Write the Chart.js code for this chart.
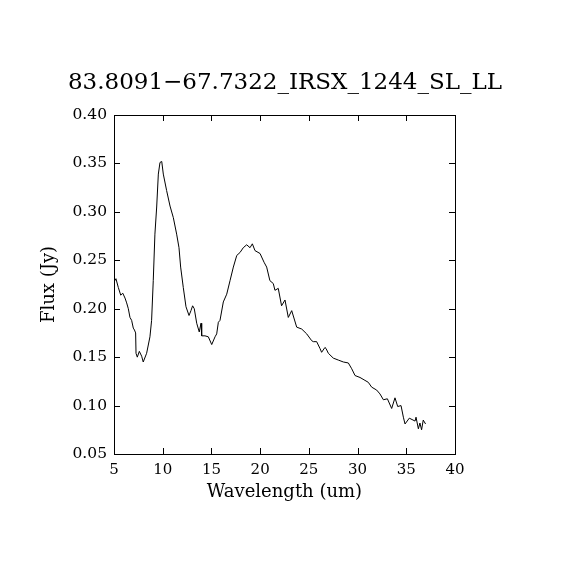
<!DOCTYPE html>
<html>
<head>
<meta charset="utf-8">
<script src="https://cdn.jsdelivr.net/npm/chart.js@4/dist/chart.umd.min.js"></script>
<style>
  html, body { margin: 0; padding: 0; background: #fff; }
  #spec { display: block; }
</style>
</head>
<body>
<canvas id="spec" width="570" height="570"></canvas>
<script>
  // values
  const wavelength = [
    5.1, 5.2, 5.44, 5.69, 5.9, 6.13, 6.3, 6.47, 6.64, 6.81, 6.98, 7.1, 7.22, 7.26, 7.39, 7.6, 7.84, 8.0,
    8.35, 8.69, 8.86, 9.03, 9.2, 9.38, 9.55, 9.72, 9.9, 10.06, 10.4, 10.75, 11.09, 11.43, 11.67,
    11.84, 12.11, 12.39, 12.7, 12.9, 13.07, 13.24, 13.49, 13.75, 13.93, 14.0, 14.34, 14.68, 15.03,
    15.37, 15.54, 15.71, 15.88, 16.22, 16.57, 16.91, 17.25, 17.6, 17.93, 18.27, 18.62, 18.96, 19.2,
    19.47, 19.99, 20.4, 20.67, 21.0, 21.35, 21.52, 21.86, 22.2, 22.55, 22.89, 23.24, 23.75, 24.27,
    24.78, 25.29, 25.46, 25.8, 26.14, 26.31, 26.65, 26.76, 27.0, 27.51, 28.02, 28.54, 29.05, 29.4,
    29.74, 30.25, 30.76, 31.1, 31.45, 31.96, 32.3, 32.65, 33.06, 33.5, 33.84, 34.12, 34.46, 34.7,
    34.87, 35.31, 35.9, 36.0, 36.24, 36.4, 36.57, 36.74, 36.98
  ];
  const flux = [
    0.229, 0.231, 0.222, 0.214, 0.216, 0.211, 0.206, 0.200, 0.191, 0.188, 0.180, 0.178, 0.175, 0.154, 0.150, 0.156, 0.151, 0.145,
    0.154, 0.171, 0.188, 0.229, 0.277, 0.305, 0.339, 0.351, 0.352, 0.339, 0.322, 0.306, 0.294, 0.277, 0.263,
    0.243, 0.222, 0.202, 0.193, 0.198, 0.203, 0.200, 0.185, 0.176, 0.185, 0.172, 0.172, 0.171, 0.163,
    0.171, 0.174, 0.186, 0.188, 0.207, 0.215, 0.229, 0.243, 0.255, 0.258, 0.263, 0.266, 0.263, 0.267,
    0.260, 0.257, 0.248, 0.243, 0.229, 0.226, 0.219, 0.221, 0.203, 0.209, 0.191, 0.198, 0.181, 0.179,
    0.174, 0.167, 0.166, 0.166, 0.159, 0.155, 0.160, 0.159, 0.154, 0.149, 0.147, 0.145, 0.144, 0.138,
    0.131, 0.129, 0.126, 0.124, 0.119, 0.116, 0.112, 0.106, 0.107, 0.097, 0.108, 0.099, 0.100, 0.088,
    0.081, 0.087, 0.084, 0.088, 0.076, 0.082, 0.075, 0.085, 0.081
  ];
  const xTicks = [5, 10, 15, 20, 25, 30, 35, 40];
  const yTicks = [0.05, 0.10, 0.15, 0.20, 0.25, 0.30, 0.35, 0.40];

  const serif = 'DejaVu Serif';
  const points = wavelength.map((w, i) => ({ x: w, y: flux[i] }));

  // box round the plot with small inward ticks on all four sides
  const frame = {
    id: 'frame',
    afterDatasetsDraw(chart) {
      const { ctx, chartArea: a, scales } = chart;
      const len = 6;
      ctx.save();
      ctx.strokeStyle = '#000';
      ctx.lineWidth = 1;
      ctx.beginPath();
      xTicks.forEach(v => {
        const px = Math.round(scales.x.getPixelForValue(v)) + 0.5;
        ctx.moveTo(px, a.bottom); ctx.lineTo(px, a.bottom - len);
        ctx.moveTo(px, a.top); ctx.lineTo(px, a.top + len);
      });
      yTicks.forEach(v => {
        const py = Math.round(scales.y.getPixelForValue(v)) + 0.5;
        ctx.moveTo(a.left, py); ctx.lineTo(a.left + len, py);
        ctx.moveTo(a.right, py); ctx.lineTo(a.right - len, py);
      });
      ctx.stroke();
      ctx.strokeRect(Math.round(a.left) + 0.5, Math.round(a.top) + 0.5,
                     Math.round(a.right - a.left), Math.round(a.bottom - a.top));
      ctx.restore();
    }
  };

  new Chart(document.getElementById('spec'), {
    type: 'line',
    data: {
      datasets: [{
        data: points,
        borderColor: '#000',
        borderWidth: 1,
        pointRadius: 0,
        tension: 0,
        fill: false
      }]
    },
    options: {
      responsive: false,
      animation: false,
      layout: { padding: 0 },
      plugins: {
        legend: { display: false },
        tooltip: { enabled: false },
        title: {
          display: true,
          text: '83.8091\u221267.7322_IRSX_1244_SL_LL',
          color: '#000',
          font: { family: serif, size: 23, weight: 'normal' },
          padding: { top: 69, bottom: 18.4 }
        }
      },
      scales: {
        x: {
          type: 'linear',
          min: 5,
          max: 40,
          afterFit(s) { s.height = 116; },
          afterBuildTicks(s) { s.ticks = xTicks.map(v => ({ value: v })); },
          grid: { display: false, drawTicks: false },
          border: { display: false },
          ticks: {
            color: '#000',
            padding: 7,
            maxRotation: 0,
            font: { family: serif, size: 15 }
          },
          title: {
            display: true,
            text: 'Wavelength (um)',
            color: '#000',
            font: { family: serif, size: 18 },
            padding: { top: 2, bottom: 67 }
          }
        },
        y: {
          type: 'linear',
          min: 0.05,
          max: 0.40,
          afterFit(s) { s.width = 114; },
          afterBuildTicks(s) { s.ticks = yTicks.map(v => ({ value: v })); },
          grid: { display: false, drawTicks: false },
          border: { display: false },
          ticks: {
            color: '#000',
            padding: 7,
            font: { family: serif, size: 15.5 },
            callback: v => v.toFixed(2)
          },
          title: {
            display: true,
            text: 'Flux (Jy)',
            color: '#000',
            font: { family: serif, size: 18 },
            padding: { top: 39, bottom: 0 }
          }
        },
        // empty right-hand margin so the title centres over the plot
        spare: {
          type: 'linear',
          position: 'right',
          min: 0,
          max: 1,
          afterFit(s) { s.width = 115; },
          grid: { display: false, drawTicks: false },
          border: { display: false },
          ticks: { display: false }
        }
      }
    },
    plugins: [frame]
  });
</script>
</body>
</html>
